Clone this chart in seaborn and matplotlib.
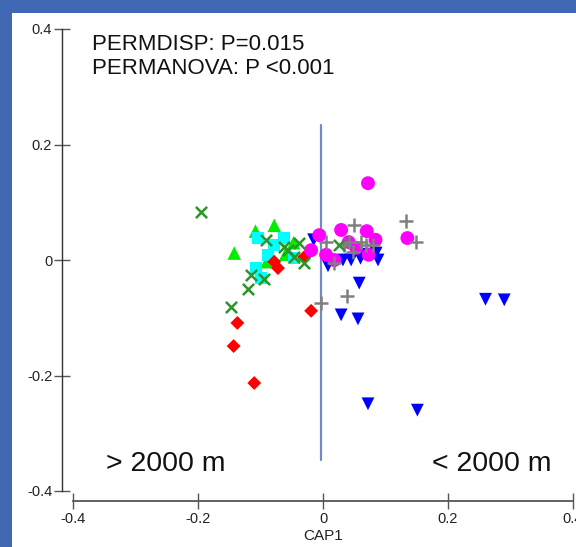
import matplotlib
matplotlib.use("Agg")
import matplotlib.pyplot as plt
import seaborn as sns
import pandas as pd
from matplotlib.patches import Rectangle

# ---------------- data (CAP1, CAP2) ----------------
tri_up_x = [-0.142, -0.108, -0.078, -0.047, -0.090, -0.060]
tri_up_y = [0.012, 0.050, 0.060, 0.030, -0.003, 0.010]

square_x = [-0.104, -0.062, -0.078, -0.088, -0.107, -0.099, -0.046]
square_y = [0.038, 0.038, 0.026, 0.009, -0.014, -0.031, 0.003]

diamond_x = [-0.078, -0.072, -0.030, -0.137, -0.143, -0.110, -0.019]
diamond_y = [-0.003, -0.014, 0.005, -0.109, -0.149, -0.213, -0.088]

tri_down_x = [-0.015, 0.008, 0.032, 0.045, 0.060, 0.070, 0.085, 0.088,
              0.058, 0.029, 0.056, 0.072, 0.151, 0.260, 0.290]
tri_down_y = [0.035, -0.010, 0.000, 0.000, 0.003, 0.010, 0.012, 0.000,
              -0.040, -0.095, -0.102, -0.249, -0.260, -0.068, -0.069]

circle_x = [0.072, 0.135, -0.006, 0.029, 0.070, 0.084, -0.019, 0.005,
            0.018, 0.073, 0.041, 0.053]
circle_y = [0.133, 0.038, 0.043, 0.052, 0.050, 0.035, 0.017, 0.009,
            0.000, 0.009, 0.031, 0.021]

plus_x = [0.132, 0.148, 0.049, 0.005, 0.041, 0.060, 0.068, 0.048, 0.018,
          -0.003, 0.038, 0.080, 0.034]
plus_y = [0.068, 0.031, 0.061, 0.031, 0.031, 0.031, 0.026, 0.014, -0.005,
          -0.074, -0.062, 0.026, 0.026]

cross_x = [-0.196, -0.091, -0.062, -0.056, -0.038, -0.046, -0.030, -0.115,
           -0.094, -0.120, -0.147, 0.026]
cross_y = [0.083, 0.035, 0.023, 0.017, 0.029, 0.005, -0.005, -0.026,
           -0.033, -0.050, -0.081, 0.026]

x_ticks = [-0.4, -0.2, 0.0, 0.2, 0.4]
x_tick_labels = ["-0.4", "-0.2", "0", "0.2", "0.4"]
y_ticks = [-0.4, -0.2, 0.0, 0.2, 0.4]
y_tick_labels = ["-0.4", "-0.2", "0", "0.2", "0.4"]

stats_lines = ["PERMDISP: P=0.015", "PERMANOVA: P <0.001"]
left_label = "> 2000 m"
right_label = "< 2000 m"
x_label = "CAP1"

# ---------------- figure ----------------
sns.set_style("white")
plt.rcParams["font.family"] = ["Liberation Sans", "DejaVu Sans"]

fig = plt.figure(figsize=(5.76, 5.47), dpi=100)
fig.patch.set_facecolor("white")
# blue frame on the left and top
fig.patches.append(Rectangle((0, 0), 12 / 576, 1, transform=fig.transFigure,
                             facecolor="#4068B3", edgecolor="none", zorder=-10))
fig.patches.append(Rectangle((0, (547 - 13) / 547), 1, 13 / 547,
                             transform=fig.transFigure, facecolor="#4068B3",
                             edgecolor="none", zorder=-10))

ax = fig.add_axes([73 / 576, (547 - 491) / 547, 500 / 576, 462 / 547])
ax.set_facecolor("none")

groups = [
    (tri_up_x, tri_up_y, "^", "#00EE00", 95, 0),
    (square_x, square_y, "s", "#00FFFF", 75, 0),
    (diamond_x, diamond_y, "D", "#FF0000", 50, 0),
    (tri_down_x, tri_down_y, "v", "#0000FF", 85, 0),
    (circle_x, circle_y, "o", "#FF00FF", 100, 0),
    (plus_x, plus_y, "+", "#808080", 110, 1.8),
    (cross_x, cross_y, "x", "#2A962A", 65, 1.8),
]
for gx, gy, m, c, s, lw in groups:
    df = pd.DataFrame({"CAP1": gx, "CAP2": gy})
    if m in ("+", "x"):
        sns.scatterplot(data=df, x="CAP1", y="CAP2", marker=m, color=c, s=s,
                        linewidth=lw, ax=ax, zorder=3)
    else:
        sns.scatterplot(data=df, x="CAP1", y="CAP2", marker=m, color=c, s=s,
                        edgecolor="none", linewidth=0, ax=ax, zorder=3)

ax.plot([-0.004, -0.004], [0.234, -0.346], color="#6E8CBF", lw=1.6, zorder=2)

ax.set_xlim(-0.4, 0.4)
ax.set_ylim(-0.4, 0.4)
ax.set_xticks(x_ticks)
ax.set_xticklabels(x_tick_labels)
ax.set_yticks(y_ticks)
ax.set_yticklabels(y_tick_labels)
ax.set_xlabel(x_label, fontsize=11, labelpad=2, color="#222222")
ax.set_ylabel("")

for side in ("top", "right"):
    ax.spines[side].set_visible(False)
ax.spines["left"].set_position(("outward", 8))
ax.spines["bottom"].set_position(("outward", 7.5))
ax.spines["left"].set_bounds(-0.4, 0.4)
ax.spines["left"].set_color("#333333")
ax.spines["bottom"].set_color("#555555")
ax.spines["left"].set_linewidth(1.0)
ax.spines["bottom"].set_linewidth(1.3)
ax.tick_params(axis="both", direction="inout", length=12, width=1.0,
               colors="#555555", labelcolor="#222222", labelsize=10.5,
               left=True, bottom=True)
ax.tick_params(axis="y", pad=1)
ax.tick_params(axis="x", pad=1.5)

ax.text(-0.370, 0.374, stats_lines[0], fontsize=16, va="center", ha="left",
        color="#111111")
ax.text(-0.370, 0.332, stats_lines[1], fontsize=16, va="center", ha="left",
        color="#111111")
ax.text(-0.348, -0.353, left_label, fontsize=20.5, va="center", ha="left",
        color="#111111")
ax.text(0.174, -0.353, right_label, fontsize=20.5, va="center", ha="left",
        color="#111111")

fig.savefig("out.png", dpi=100, facecolor=fig.get_facecolor())
